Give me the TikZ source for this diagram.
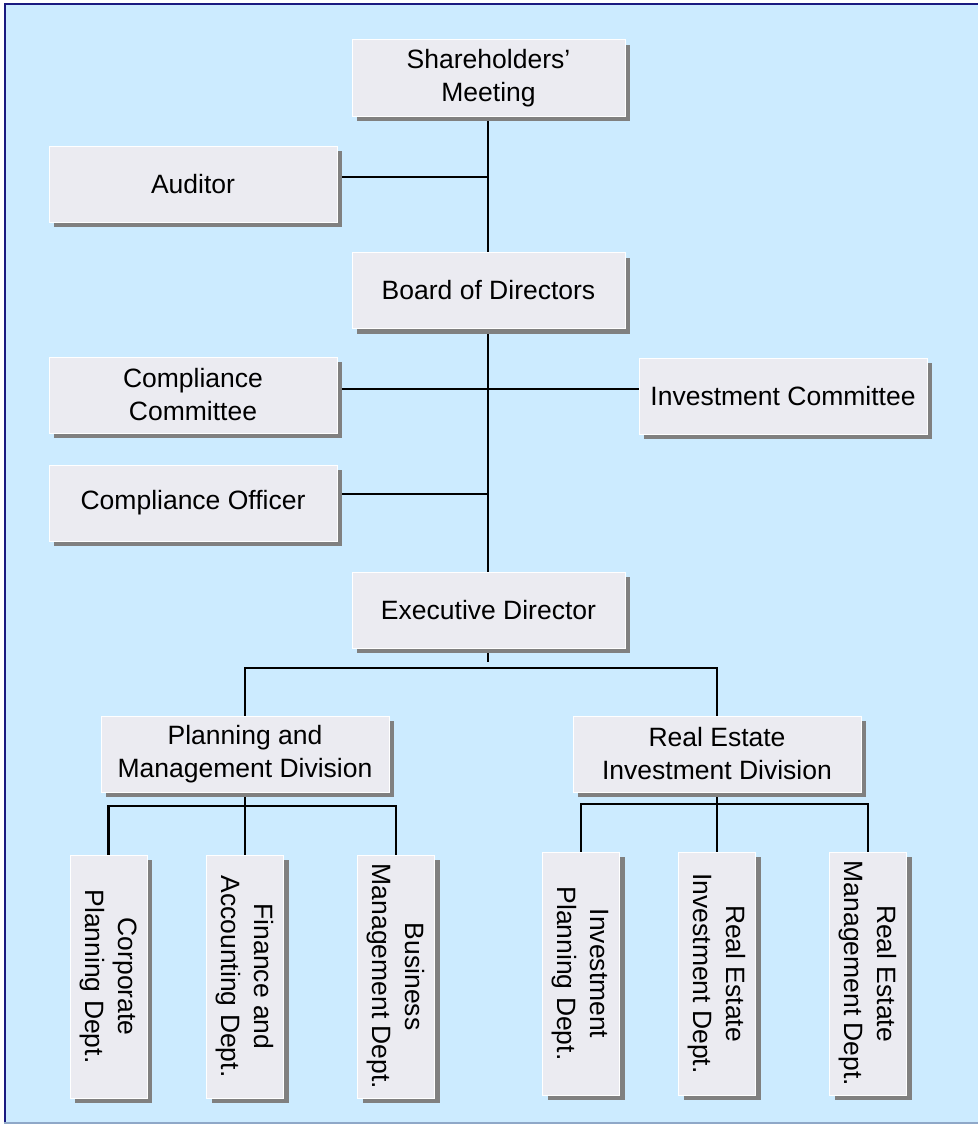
\documentclass[tikz,border=0pt]{standalone}
\usepackage{fontspec}
\setmainfont{Liberation Sans}
\usetikzlibrary{shadows,backgrounds}
\definecolor{bgblue}{HTML}{CCEBFF}
\definecolor{boxfill}{HTML}{EBEBF1}
\definecolor{shadowgray}{HTML}{808080}
\definecolor{navy}{HTML}{1A1A80}
\definecolor{bottomline}{HTML}{8FA8C8}
\tikzset{
  orgbox/.style={draw=white, line width=1pt, fill=boxfill, inner sep=0pt,
    align=center, minimum width=288pt, minimum height=76pt,
    font=\fontsize{26.5}{33}\selectfont,
    drop shadow={shadow xshift=5pt, shadow yshift=-5pt, fill=shadowgray, opacity=1}},
  midbox/.style={orgbox, minimum width=273pt},
  deptbox/.style={orgbox, minimum width=77pt, minimum height=243pt},
  link/.style={draw=black, line width=2.2pt},
}
\newcommand{\vtext}[2]{\rotatebox{-90}{\begin{tabular}{@{}c@{}}#1\\#2\end{tabular}}}
\begin{document}
\begin{tikzpicture}[x=1pt, y=-1pt]
\useasboundingbox (0,0) rectangle (978,1124);

% top part
\node[midbox] (share) at (488.5,78) {Shareholders'\\Meeting};
\node[orgbox] (auditor) at (193,184) {Auditor};
\node[midbox] (board) at (488.5,290.5) {Board of Directors};
\node[orgbox] (compcom) at (193,395) {Compliance\\Committee};
\node[orgbox] (invcom) at (783,396) {Investment Committee};
\node[orgbox] (compoff) at (193,503) {Compliance Officer};
\node[midbox] (exec) at (488.5,610) {Executive Director};

% divisions
\node[orgbox] (plan) at (245,754) {Planning and\\Management Division};
\node[orgbox] (realdiv) at (717,754) {Real Estate\\Investment Division};

% departments
\node[deptbox] (corp) at (108.5,976.5) {\vtext{Corporate}{Planning Dept.}};
\node[deptbox] (fin) at (245,976.5) {\vtext{Finance and}{Accounting Dept.}};
\node[deptbox] (bus) at (396,976.5) {\vtext{Business}{Management Dept.}};
\node[deptbox] (invplan) at (581,973.5) {\vtext{Investment}{Planning Dept.}};
\node[deptbox] (reinv) at (717,973.5) {\vtext{Real Estate}{Investment Dept.}};
\node[deptbox] (remgmt) at (868,973.5) {\vtext{Real Estate}{Management Dept.}};

% trunk coordinates
\coordinate (tAud) at (488,177);
\coordinate (tCom) at (488,389);
\coordinate (tOff) at (488,494);
\coordinate (tExec) at (488,668);
\coordinate (tPlan) at (245,806);
\coordinate (tReal) at (717,804);

\begin{scope}[on background layer]
\fill[white] (0,0) rectangle (978,1124);
\fill[bgblue] (4,4) rectangle (978,1122);
\draw[navy, line width=2pt] (4.5,1122) -- (4.5,4.5) -- (978,4.5);
\draw[bottomline, line width=2pt] (4,1123) -- (978,1123);
% connectors
\draw[link] (share.south -| tAud) -- (exec.north -| tAud);
\draw[link] (auditor.east |- tAud) -- (tAud);
\draw[link] (compcom.east |- tCom) -- (invcom.west |- tCom);
\draw[link] (compoff.east |- tOff) -- (tOff);
\draw[link] (exec.south -| tExec) -- ([yshift=6pt]tExec);
\draw[link] (plan.north) |- (tExec) -| (realdiv.north);
\draw[link] (plan.south) -- (tPlan);
\draw[link] (corp.north) |- (tPlan) -| (bus.north);
\draw[link] (tPlan) -- (fin.north);
\draw[link] (realdiv.south) -- (tReal);
\draw[link] (invplan.north) |- (tReal) -| (remgmt.north);
\draw[link] (tReal) -- (reinv.north);
\end{scope}
\end{tikzpicture}
\end{document}
